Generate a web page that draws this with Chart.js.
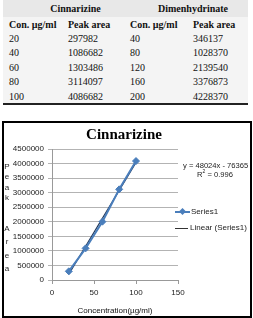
<!DOCTYPE html>
<html>
<head>
<meta charset="utf-8">
<script src="https://cdn.jsdelivr.net/npm/chart.js@4/dist/chart.umd.min.js"></script>
<style>
  html, body { margin: 0; padding: 0; background: #fff; }
  body { width: 253px; height: 318px; position: relative; overflow: hidden; }
  .abs { position: absolute; white-space: nowrap; }
  #tbl { position: absolute; left: 3px; top: 0; width: 245px; height: 104px; background: #f4f4f4; }
  #band { position: absolute; left: 3px; top: 0; width: 245px; height: 17px; background: #e8e8e8; }
  #rule { position: absolute; left: 3px; top: 103px; width: 245px; height: 2px; background: #222; }
  .tx { font-family: "Liberation Serif", serif; font-size: 10px; line-height: 12px; color: #111; }
  .b { font-weight: bold; }
  #box { position: absolute; left: 2px; top: 121px; width: 250px; height: 197px; border: 2px solid #000; box-sizing: border-box; }
  #c { display: block; }
  .sm { font-family: "Liberation Sans", sans-serif; font-size: 8px; line-height: 10px; color: #222; }
  .ytl { font-family: "Liberation Sans", sans-serif; font-size: 8px; color: #222; text-align: center; width: 8px; }
</style>
</head>
<body>
<div id="tbl"></div>
<div id="band"></div>
<div id="rule"></div>
<div id="tableText"></div>

<div id="box"><canvas id="c" width="246" height="193"></canvas></div>

<div class="abs ytl" style="left:3px; top:162px; line-height:10.3px;">P<br>e<br>a<br>k</div>
<div class="abs ytl" style="left:3px; top:222px; line-height:13.3px;">A<br>r<br>e<br>a</div>

<div class="abs sm" style="left:183px; top:161px; font-size:7.6px;">y = 48024x - 76365</div>
<div class="abs sm" style="left:197px; top:170px; font-size:7.6px;">R<sup style="font-size:5px; line-height:0; vertical-align:4px;">2</sup> = 0.996</div>

<div class="abs" style="left:175px; top:211px; width:15px; height:2px; background:#4a7ebb;"></div>
<div class="abs" style="left:180px; top:209px; width:5px; height:5px; background:#4a7ebb; transform:rotate(45deg);"></div>
<div class="abs sm" style="left:191px; top:207px;">Series1</div>
<div class="abs" style="left:175px; top:228px; width:13px; height:1px; background:#333;"></div>
<div class="abs sm" style="left:190px; top:223px;">Linear (Series1)</div>

<script>
// ---- table text (as printed) ----
const tableCinConc = ["20", "40", "60", "80", "100"];
const tableCinArea = ["297982", "1086682", "1303486", "3114097", "4086682"];
const tableDimConc = ["40", "80", "120", "160", "200"];
const tableDimArea = ["346137", "1028370", "2139540", "3376873", "4228370"];
const tableGroupHeaders = ["Cinnarizine", "Dimenhydrinate"];
const tableColHeaders = ["Con. \u00b5g/ml", "Peak area", "Con. \u00b5g/ml", "Peak area"];

// ---- chart data (as plotted) ----
const concentrations = [20, 40, 60, 80, 100];
const peakAreas = [297982, 1086682, 2003486, 3114097, 4086682];
const trendX = [20, 100];
const trendY = [196826, 4038746];
const xTicks = [0, 50, 100, 150];
const yTicks = [0, 500000, 1000000, 1500000, 2000000, 2500000, 3000000, 3500000, 4000000, 4500000];

// build table text
(function () {
  const host = document.getElementById('tableText');
  const colX = [9, 68, 130, 193];
  const rowY = [25, 39, 53, 68, 82, 97];
  function put(txt, x, cy, bold, center) {
    const d = document.createElement('div');
    d.className = 'abs tx' + (bold ? ' b' : '');
    d.textContent = txt;
    d.style.top = (cy - 6) + 'px';
    if (center) { d.style.left = (x - 60) + 'px'; d.style.width = '120px'; d.style.textAlign = 'center'; }
    else d.style.left = x + 'px';
    host.appendChild(d);
  }
  put(tableGroupHeaders[0], 75.5, 9, true, true);
  put(tableGroupHeaders[1], 193, 9, true, true);
  tableColHeaders.forEach((h, i) => put(h, colX[i], rowY[0], true, false));
  const cols = [tableCinConc, tableCinArea, tableDimConc, tableDimArea];
  for (let r = 0; r < 5; r++) cols.forEach((col, i) => put(col[r], colX[i], rowY[r + 1], false, false));
})();

Chart.defaults.font.family = '"Liberation Sans", sans-serif';
Chart.defaults.font.size = 8;
Chart.defaults.color = '#222';

new Chart(document.getElementById('c'), {
  type: 'line',
  data: {
    datasets: [
      {
        label: 'Series1',
        data: concentrations.map((x, i) => ({ x: x, y: peakAreas[i] })),
        borderColor: '#4a7ebb',
        backgroundColor: '#4a7ebb',
        borderWidth: 2,
        pointStyle: 'rectRot',
        pointRadius: 3.5,
        pointBorderWidth: 1,
        pointBorderColor: '#4a7ebb',
        tension: 0
      },
      {
        label: 'Linear (Series1)',
        data: trendX.map((x, i) => ({ x: x, y: trendY[i] })),
        borderColor: '#1f3558',
        borderWidth: 1.2,
        pointRadius: 0,
        tension: 0
      }
    ]
  },
  options: {
    responsive: false,
    animation: false,
    devicePixelRatio: 1,
    layout: { padding: { left: 0, right: 6, top: 0, bottom: 0 } },
    plugins: {
      legend: { display: false },
      tooltip: { enabled: false },
      title: {
        display: true,
        text: 'Cinnarizine',
        color: '#000',
        font: { family: '"Liberation Serif", serif', size: 15, weight: 'bold' },
        padding: { top: 3, bottom: 5 }
      }
    },
    scales: {
      x: {
        type: 'linear',
        min: 0, max: 150,
        afterBuildTicks: (s) => { s.ticks = xTicks.map(v => ({ value: v })); },
        ticks: { padding: 4, color: '#222', font: { size: 8 } },
        grid: { drawOnChartArea: false, drawTicks: true, tickLength: 4, color: '#999' },
        border: { display: true, color: '#999' },
        title: { display: true, text: 'Concentration(\u00b5g/ml)', color: '#111', font: { size: 8 }, padding: { top: 0, bottom: 0 } },
        afterFit: (s) => { s.height = 36; }
      },
      y: {
        type: 'linear',
        min: 0, max: 4500000,
        afterBuildTicks: (s) => { s.ticks = yTicks.map(v => ({ value: v })); },
        ticks: { padding: 4, color: '#222', font: { size: 8 }, callback: (v) => String(v) },
        grid: { color: '#b3b3b3', drawTicks: true, tickLength: 4 },
        border: { display: true, color: '#999' },
        afterFit: (s) => { s.width = 48; }
      },
      y2: {
        type: 'linear',
        position: 'right',
        display: true,
        min: 0, max: 4500000,
        ticks: { display: false },
        grid: { display: false },
        border: { display: false },
        afterFit: (s) => { s.width = 66; }
      }
    }
  }
});
</script>
</body>
</html>
